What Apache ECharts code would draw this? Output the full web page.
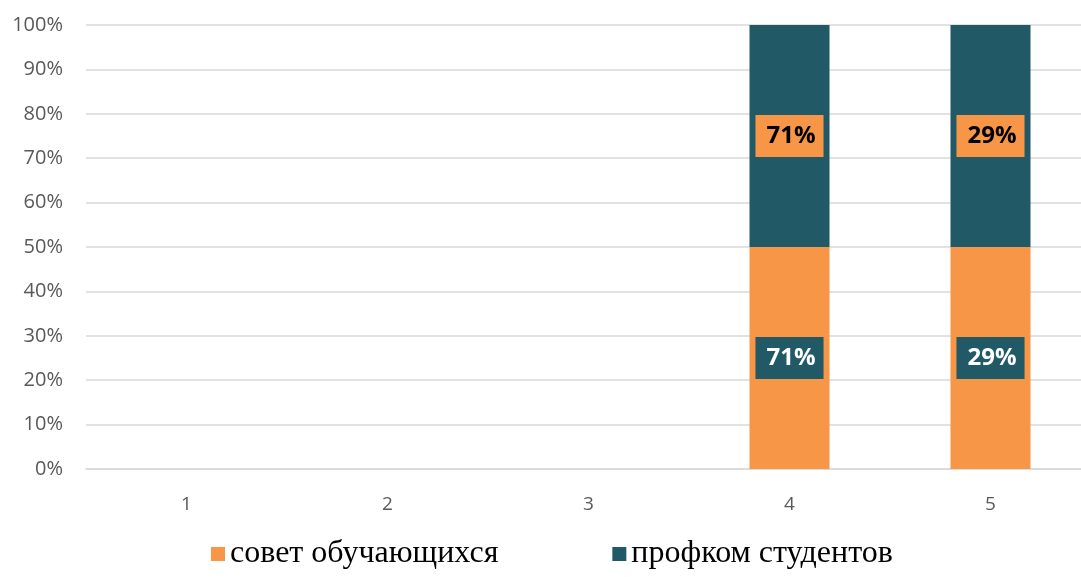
<!DOCTYPE html>
<html>
<head>
<meta charset="utf-8">
<script src="https://cdn.jsdelivr.net/npm/echarts@6/dist/echarts.min.js"></script>
<style>html,body{margin:0;padding:0;background:#fff;overflow:hidden}#c{width:1091px;height:577px}</style>
</head>
<body>
<div id="c"></div>
<script>
const categories = ['1', '2', '3', '4', '5'];
const sovetValues = [null, null, null, 0.71, 0.29];
const profkomValues = [null, null, null, 0.71, 0.29];
const seriesNames = ['совет обучающихся', 'профком студентов'];
const yTicks = [0, 10, 20, 30, 40, 50, 60, 70, 80, 90, 100];

const totals = categories.map((_, i) => (sovetValues[i] || 0) + (profkomValues[i] || 0));
const share = (arr) => arr.map((v, i) => v == null || !totals[i] ? null : { value: v / totals[i] * 100, raw: v });

const fmt = (p) => Math.round(p.data.raw * 100) + '%';

const chart = echarts.init(document.getElementById('c'));
chart.setOption({
  animation: false,
  grid: { left: 86, top: 25, right: 0, height: 444, containLabel: false },
  legend: {
    bottom: 2,
    left: 206,
    itemWidth: 14,
    itemHeight: 14,
    itemGap: 114,
    icon: 'rect',
    textStyle: { fontFamily: 'Liberation Serif', fontSize: 32, color: '#000' },
    data: seriesNames
  },
  xAxis: {
    type: 'category',
    data: categories,
    axisLine: { lineStyle: { color: '#d9d9d9', width: 1.5 } },
    axisTick: { show: false },
    axisLabel: { color: '#595959', fontFamily: 'Open Sans', fontSize: 19, margin: 26 }
  },
  yAxis: {
    type: 'value',
    min: 0, max: 100, interval: 10,
    axisLine: { show: false },
    axisTick: { show: false },
    splitLine: { lineStyle: { color: '#d9d9d9', width: 1.5 } },
    axisLabel: { color: '#595959', fontFamily: 'Open Sans', fontSize: 20, margin: 23, formatter: '{value}%' }
  },
  series: [
    {
      name: seriesNames[0], type: 'bar', stack: 's', barWidth: 80,
      itemStyle: { color: '#F79646' },
      data: share(sovetValues),
      label: {
        show: true, position: 'inside', formatter: fmt,
        backgroundColor: '#215967', color: '#fff',
        fontFamily: 'Open Sans', fontWeight: 'bold', fontSize: 24,
        padding: [6, 8, 4, 11], lineHeight: 32
      }
    },
    {
      name: seriesNames[1], type: 'bar', stack: 's', barWidth: 80,
      itemStyle: { color: '#215967' },
      data: share(profkomValues),
      label: {
        show: true, position: 'inside', formatter: fmt,
        backgroundColor: '#F79646', color: '#000',
        fontFamily: 'Open Sans', fontWeight: 'bold', fontSize: 24,
        padding: [6, 8, 4, 11], lineHeight: 32
      }
    }
  ]
});
</script>
</body>
</html>
